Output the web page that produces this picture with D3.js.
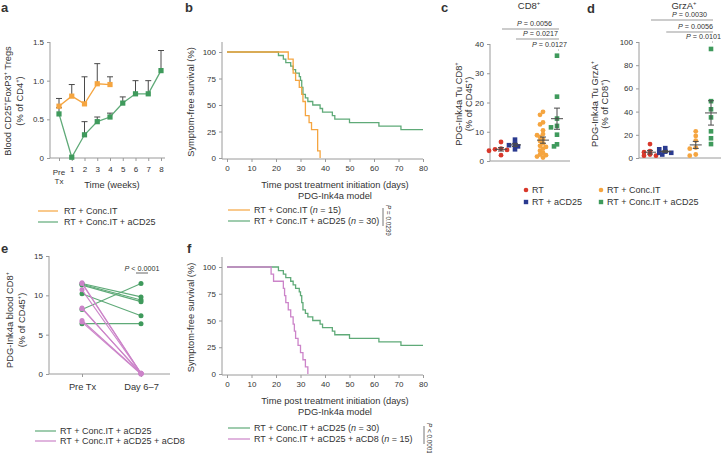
<!DOCTYPE html>
<html><head><meta charset="utf-8">
<script src="https://cdn.jsdelivr.net/npm/d3@7"></script>
<style>body{margin:0;background:#fff}svg{display:block}text{font-family:"Liberation Sans",Arial,sans-serif;fill:#333}</style>
</head><body>
<script>
// ---------- DATA ----------
// Panel a
const aWeeks = ["Pre Tx","1","2","3","4","5","6","7","8"];
const aOrangeMean = [0.67,0.80,0.70,0.96,0.95];
const aOrangeSem  = [0.10,0.15,0.35,0.26,0.10];
const aGreenMean  = [0.57,0.01,0.30,0.47,0.53,0.71,0.83,0.83,1.13];
const aGreenSem   = [0.08,0.00,0.17,0.06,0.05,0.08,0.17,0.17,0.26];
// Panel b survival
const bOrangeDays = [0,25,27,28,29.5,30.5,31,32,33.5,34.5,37,38];
const bOrangeSurv = [100,93.3,80,73.3,66.7,60,53.3,40,33.3,26.7,6.7,0];
const bGreenDays  = [0,21,23,24,26,27,28,29.5,30,30.5,31,32,33,35,38,39,43,44,50,62,71,80];
const bGreenSurv  = [100,96.7,93.3,90,86.7,83.3,80,76.7,73.3,66.7,60,56.7,53.3,50,46.7,43.3,40,36.7,33.3,30,26.7,26.7];
const survTicksY = [0,25,50,75,100];
const survTicksX = [0,10,20,30,40,50,60,70,80];
// Panel c (CD8+ % of CD45+)
const cRT      = [6.5,4.2,4.0,3.8,3.5,2.0];
const cRTa     = [7.3,5.8,5.4,5.0,4.0];
const cIT      = [16.8,15.8,13.2,12.5,10.5,9.2,8.8,8.2,7.5,6.8,6.0,5.2,4.8,4.2,3.5,2.8,2.2,2.0,1.5,1.2];
const cITa     = [36,22,14.5,12,11.5,9,5.7,5];
const cPvals   = ["0.0056","0.0217","0.0127"];
const cTicks   = [0,10,20,30,40];
// Panel d (GrzA+ % of CD8+)
const dRT      = [12,6,5,3,2,2];
const dRTa     = [8.5,7.5,5.5,4.5,4.5,3];
const dIT      = [23,19,15,9,8,3,2];
const dITa     = [94,49,42,35,23,17,12];
const dPvals   = ["0.0030","0.0056","0.0101"];
const dTicks   = [0,20,40,60,80,100];
// Panel e (paired)
const eCats     = ["Pre Tx","Day 6–7"];
const eGreenPre = [11.5,11.4,11.3,10.2,8.2,6.4];
const eGreenDay = [9.8,9.4,9.2,7.4,11.5,6.4];
const ePinkPre  = [11.6,11.5,10.7,8.4,8.3,6.8,6.6];
const ePinkDay  = [0.1,0.05,0.1,0.0,0.1,0.05,0.0];
const eTicks    = [0,5,10,15];
// Panel f survival
const fGreenDays = [0,21,23,24,26,27,28,29.5,30,30.5,31,32,33,35,38,39,43,44,50,62,71,80];
const fGreenSurv = [100,96.7,93.3,90,86.7,83.3,80,76.7,73.3,66.7,60,56.7,53.3,50,46.7,43.3,40,36.7,33.3,30,26.7,26.7];
const fPinkDays  = [0,18,19,23,23.5,24,25,26,27,27.5,28,29,30,31,32,33];
const fPinkSurv  = [100,93.3,86.7,80,73.3,66.7,60,53.3,46.7,40,33.3,26.7,20,13.3,6.7,0];

// ---------- STYLE ----------
const C = {orange:"#f5a540", green:"#3f9a5c", greenL:"#5faa78", pink:"#cc84c9", red:"#d8382b", navy:"#2a3a8f", axis:"#9a9a9a", err:"#4a4a4a", sig:"#999"};
const FS = 9.3, LFS = 9, TFS = 8;

const svg = d3.select("body").append("svg").attr("width",721).attr("height",453);

function rich(t, str, fs) {
  const parts = str.split(/(\^\{[^}]*\}|\*[^*]+\*)/).filter(s => s.length);
  let sup = false;
  parts.forEach(p => {
    if (p.startsWith("^{")) {
      t.append("tspan").attr("dy", -fs*0.4).attr("font-size", fs*0.62).text(p.slice(2,-1));
      sup = true;
    } else {
      const ts = t.append("tspan");
      if (sup) { ts.attr("dy", fs*0.4); sup = false; }
      if (p.startsWith("*")) ts.attr("font-style","italic").text(p.slice(1,-1));
      else ts.text(p);
    }
  });
  return t;
}
function label(x, y, str, opts={}) {
  const t = svg.append("text").attr("x",x).attr("y",y).attr("font-size",opts.fs||FS)
    .attr("text-anchor",opts.anchor||"start");
  if (opts.bold) t.attr("font-weight","bold");
  if (opts.rot) t.attr("transform",`rotate(${opts.rot},${x},${y})`);
  rich(t, str, opts.fs||FS);
  return t;
}
function vLabel(x, y, str) { return label(x, y, str, {anchor:"middle", rot:-90}); }
function styleAxis(g) {
  g.selectAll(".domain").remove();
  g.selectAll(".tick line").attr("stroke",C.axis);
  g.selectAll(".tick text").attr("font-size",TFS).attr("fill","#444")
   .attr("font-family","'Liberation Sans',Arial,sans-serif");
}
function hLine(x1,x2,y,col){ svg.append("line").attr("x1",x1).attr("x2",x2).attr("y1",y).attr("y2",y).attr("stroke",col||C.axis).attr("stroke-width",1); }
function vLine(x,y1,y2,col){ svg.append("line").attr("x1",x).attr("x2",x).attr("y1",y1).attr("y2",y2).attr("stroke",col||C.axis).attr("stroke-width",1); }
function legendLine(x1,x2,y,col,str,tx){ svg.append("line").attr("x1",x1).attr("x2",x2).attr("y1",y).attr("y2",y).attr("stroke",col).attr("stroke-width",1.2); label(tx,y+3,str,{fs:LFS}); }

// ---------- PANEL LABELS ----------
label(1,12,"a",{bold:true,fs:13}); label(185,12,"b",{bold:true,fs:13});
label(441,12,"c",{bold:true,fs:13}); label(587,13,"d",{bold:true,fs:13});
label(1,253,"e",{bold:true,fs:13}); label(187,253,"f",{bold:true,fs:13});

// ---------- PANEL A ----------
{
  const x = d3.scalePoint().domain(aWeeks).range([59,161]);
  const y = d3.scaleLinear().domain([0,1.5]).range([158,42]);
  const ga = svg.append("g").attr("transform","translate(50,0)")
    .call(d3.axisLeft(y).tickValues([0,0.5,1,1.5]).tickSize(3).tickFormat(d => d===0?"0":d3.format(".1f")(d)));
  styleAxis(ga);
  vLine(50,42,158);
  const gx = svg.append("g").attr("transform","translate(0,158)")
    .call(d3.axisBottom(x).tickSize(3).tickFormat(d => d==="Pre Tx" ? "" : d));
  styleAxis(gx);
  gx.selectAll(".tick text").attr("dy","0.95em");
  hLine(50,165,158);
  svg.append("text").attr("x",x("Pre Tx")).attr("y",175).attr("font-size",TFS).attr("text-anchor","middle").attr("fill","#444")
    .selectAll("tspan").data(["Pre","Tx"]).join("tspan").attr("x",x("Pre Tx")).attr("dy",(d,i)=>i?"1.15em":0).text(d=>d);
  label(112,188,"Time (weeks)",{anchor:"middle"});
  vLabel(11,101,"Blood CD25^{+}FoxP3^{+} Tregs");
  vLabel(23,101,"(% of CD4^{+})");

  const series = [
    {mean:aGreenMean, sem:aGreenSem, col:C.green, lc:C.greenL},
    {mean:aOrangeMean, sem:aOrangeSem, col:C.orange, lc:C.orange}
  ];
  series.forEach(s => {
    const pts = s.mean.map((m,i) => ({c:aWeeks[i], m, e:s.sem[i]}));
    pts.filter(p=>p.e>0).forEach(p => {
      vLine(x(p.c), y(p.m), y(p.m+p.e), C.err);
      hLine(x(p.c)-3, x(p.c)+3, y(p.m+p.e), C.err);
    });
  });
  series.forEach(s => {
    const pts = s.mean.map((m,i) => ({c:aWeeks[i], m}));
    svg.append("path").datum(pts).attr("fill","none").attr("stroke",s.lc).attr("stroke-width",1.3)
      .attr("d", d3.line().x(p=>x(p.c)).y(p=>y(p.m)));
    svg.selectAll(null).data(pts).join("rect").attr("x",p=>x(p.c)-2.6).attr("y",p=>y(p.m)-2.6)
      .attr("width",5.2).attr("height",5.2).attr("fill",s.col);
  });
  legendLine(38,58,211,C.orange,"RT + Conc.IT",64);
  legendLine(38,58,222,C.greenL,"RT + Conc.IT + aCD25",64);
}

// ---------- SURVIVAL PANELS ----------
function survival(cfg) {
  const x = d3.scaleLinear().domain([0,80]).range([227,423]);
  const y = d3.scaleLinear().domain([0,100]).range([cfg.y0, cfg.y100]);
  const gy = svg.append("g").attr("transform","translate(222,0)")
    .call(d3.axisLeft(y).tickValues(survTicksY).tickSize(3));
  styleAxis(gy);
  vLine(222, cfg.yTop, cfg.xAxisY);
  const gx = svg.append("g").attr("transform",`translate(0,${cfg.xAxisY})`)
    .call(d3.axisBottom(x).tickValues(survTicksX).tickSize(3));
  styleAxis(gx);
  hLine(222,423,cfg.xAxisY);
  cfg.curves.forEach(cv => {
    const pts = cv.days.map((d,i)=>({d, s:cv.surv[i]}));
    svg.append("path").datum(pts).attr("fill","none").attr("stroke",cv.col).attr("stroke-width",1.3)
      .attr("d", d3.line().curve(d3.curveStepAfter).x(p=>x(p.d)).y(p=>y(p.s)));
  });
  label(335,cfg.xAxisY+29,"Time post treatment initiation (days)",{anchor:"middle"});
  label(335,cfg.xAxisY+40,"PDG-Ink4a model",{anchor:"middle"});
  vLabel(194,(cfg.y0+cfg.yTop)/2+2,"Symptom-free survival (%)");
  cfg.legend.forEach((l,i) => legendLine(228,250,cfg.legY+i*11,l.col,l.text,254));
  vLine(cfg.pX-3, cfg.legY-2, cfg.legY+16, "#777");
  label(cfg.pX, cfg.legY-5, cfg.p, {rot:90, fs:6.3});
}
survival({y0:158, y100:52, yTop:42, xAxisY:159,
  curves:[{days:bGreenDays, surv:bGreenSurv, col:C.greenL},{days:bOrangeDays, surv:bOrangeSurv, col:C.orange}],
  legend:[{col:C.orange,text:"RT + Conc.IT (*n* = 15)"},{col:C.greenL,text:"RT + Conc.IT + aCD25 (*n* = 30)"}],
  legY:210, pX:386, p:"*P* = 0.0239"});
survival({y0:374, y100:267, yTop:257, xAxisY:375,
  curves:[{days:fGreenDays, surv:fGreenSurv, col:C.greenL},{days:fPinkDays, surv:fPinkSurv, col:C.pink}],
  legend:[{col:C.greenL,text:"RT + Conc.IT + aCD25 (*n* = 30)"},{col:C.pink,text:"RT + Conc.IT + aCD25 + aCD8 (*n* = 15)"}],
  legY:428, pX:427, p:"*P* < 0.0001"});

// ---------- DOT PANELS ----------
function swarm(vals, cx, y, dist, step) {
  const placed = [];
  const order = vals.map((v,i)=>({v,i})).sort((a,b)=>b.v-a.v);
  order.forEach(o => {
    const py = y(o.v);
    let off = 0;
    for (let k=0;k<20;k++) {
      const cand = k===0?0:(k%2? -1:1)*Math.ceil(k/2)*step;
      if (placed.every(p => Math.hypot(p.x-(cx+cand), p.y-py) >= dist)) { off=cand; break; }
    }
    placed.push({x:cx+off, y:py, v:o.v});
  });
  return placed;
}
function dotPanel(cfg) {
  const y = d3.scaleLinear().domain([0,cfg.max]).range([cfg.y0,cfg.yMax]);
  const xs = d3.scaleLinear().domain([0,4]).range([cfg.xFirst,cfg.xLast]);
  const slots = [0,1,3,4];
  const gy = svg.append("g").attr("transform",`translate(${cfg.axisX},0)`)
    .call(d3.axisLeft(y).tickValues(cfg.ticks).tickSize(3));
  styleAxis(gy);
  vLine(cfg.axisX, cfg.yMax, cfg.y0);
  hLine(cfg.axisX, cfg.axisEnd, cfg.y0);
  const groups = [
    {vals:cfg.data[0], col:C.red, shape:"c"},
    {vals:cfg.data[1], col:C.navy, shape:"s"},
    {vals:cfg.data[2], col:C.orange, shape:"c"},
    {vals:cfg.data[3], col:C.green, shape:"s"}];
  groups.forEach((g,gi) => {
    const cx = xs(slots[gi]);
    const pts = swarm(g.vals, cx, y, 3.4, 3);
    if (g.shape==="c") svg.selectAll(null).data(pts).join("circle").attr("cx",p=>p.x).attr("cy",p=>p.y).attr("r",2.4).attr("fill",g.col);
    else svg.selectAll(null).data(pts).join("rect").attr("x",p=>p.x-2.3).attr("y",p=>p.y-2.3).attr("width",4.6).attr("height",4.6).attr("fill",g.col);
    const m = d3.mean(g.vals), se = d3.deviation(g.vals)/Math.sqrt(g.vals.length);
    hLine(cx-6, cx+6, y(m), C.err);
    vLine(cx, y(m-se), y(m+se), C.err);
    hLine(cx-3, cx+3, y(m-se), C.err);
    hLine(cx-3, cx+3, y(m+se), C.err);
  });
  const fromSlots = [0,1,3];
  cfg.pvals.forEach((p,i) => {
    const x1 = xs(slots[fromSlots[i]])+1, x2 = xs(4)+2;
    const by = cfg.barY[i];
    hLine(x1, x2, by, C.sig);
    label(x2 + cfg.textShift[i], by-3, "*P* = "+p, {anchor:"end", fs:7.2});
  });
  label(cfg.titleX, 9, cfg.title, {anchor:"middle", fs:9.5});
  vLabel(cfg.labX, cfg.labY, cfg.lab1);
  vLabel(cfg.labX+10, cfg.labY, cfg.lab2);
}
dotPanel({max:40, y0:161, yMax:44, axisX:490, axisEnd:570, xFirst:501, xLast:557, ticks:cTicks,
  data:[cRT,cRTa,cIT,cITa], pvals:cPvals, barY:[29,39,50], textShift:[-7,-1,8],
  title:"CD8^{+}", titleX:529, lab1:"PDG-Ink4a Tu CD8^{+}", lab2:"(% of CD45^{+})", labX:462, labY:104});
dotPanel({max:100, y0:158, yMax:42, axisX:639, axisEnd:721, xFirst:650, xLast:711, ticks:dTicks,
  data:[dRT,dRTa,dIT,dITa], pvals:dPvals, barY:[20,32,42], textShift:[-6,0,8],
  title:"GrzA^{+}", titleX:684, lab1:"PDG-Ink4a Tu GrzA^{+}", lab2:"(% of CD8^{+})", labX:598, labY:104});
// c/d legend
[[526,190,C.red,"c","RT"],[526,202,C.navy,"s","RT + aCD25"],[601,190,C.orange,"c","RT + Conc.IT"],[601,202,C.green,"s","RT + Conc.IT + aCD25"]]
  .forEach(([lx,ly,col,sh,txt]) => {
    if (sh==="c") svg.append("circle").attr("cx",lx).attr("cy",ly).attr("r",2.3).attr("fill",col);
    else svg.append("rect").attr("x",lx-2.2).attr("y",ly-2.2).attr("width",4.4).attr("height",4.4).attr("fill",col);
    label(lx+6, ly+3, txt, {fs:LFS});
  });

// ---------- PANEL E ----------
{
  const x = d3.scalePoint().domain(eCats).range([82,141]);
  const y = d3.scaleLinear().domain([0,15]).range([374,256]);
  const gy = svg.append("g").attr("transform","translate(49,0)")
    .call(d3.axisLeft(y).tickValues(eTicks).tickSize(3));
  styleAxis(gy);
  vLine(49,256,374);
  const gx = svg.append("g").attr("transform","translate(0,374)")
    .call(d3.axisBottom(x).tickSize(3));
  styleAxis(gx);
  gx.selectAll(".tick text").attr("font-size",FS).attr("dy","1.1em");
  hLine(49,170,374);
  const sets = [
    {pre:eGreenPre, day:eGreenDay, col:C.green, lc:C.greenL},
    {pre:ePinkPre, day:ePinkDay, col:C.pink, lc:C.pink}];
  sets.forEach(s => {
    s.pre.forEach((v,i) => {
      svg.append("line").attr("x1",x(eCats[0])).attr("y1",y(v)).attr("x2",x(eCats[1])).attr("y2",y(s.day[i]))
        .attr("stroke",s.lc).attr("stroke-width",1.1);
    });
    const pts = s.pre.map(v=>({c:eCats[0],v})).concat(s.day.map(v=>({c:eCats[1],v})));
    svg.selectAll(null).data(pts).join("circle").attr("cx",p=>x(p.c)).attr("cy",p=>y(p.v)).attr("r",2.5).attr("fill",s.col);
  });
  hLine(136,148,273,"#666");
  label(142,271,"*P* < 0.0001",{anchor:"middle",fs:7.2});
  vLabel(13,320,"PDG-Ink4a blood CD8^{+}");
  vLabel(25,320,"(% of CD45^{+})");
  legendLine(35,56,431,C.greenL,"RT + Conc.IT + aCD25",60);
  legendLine(35,56,441,C.pink,"RT + Conc.IT + aCD25 + aCD8",60);
}
</script>
</body></html>
